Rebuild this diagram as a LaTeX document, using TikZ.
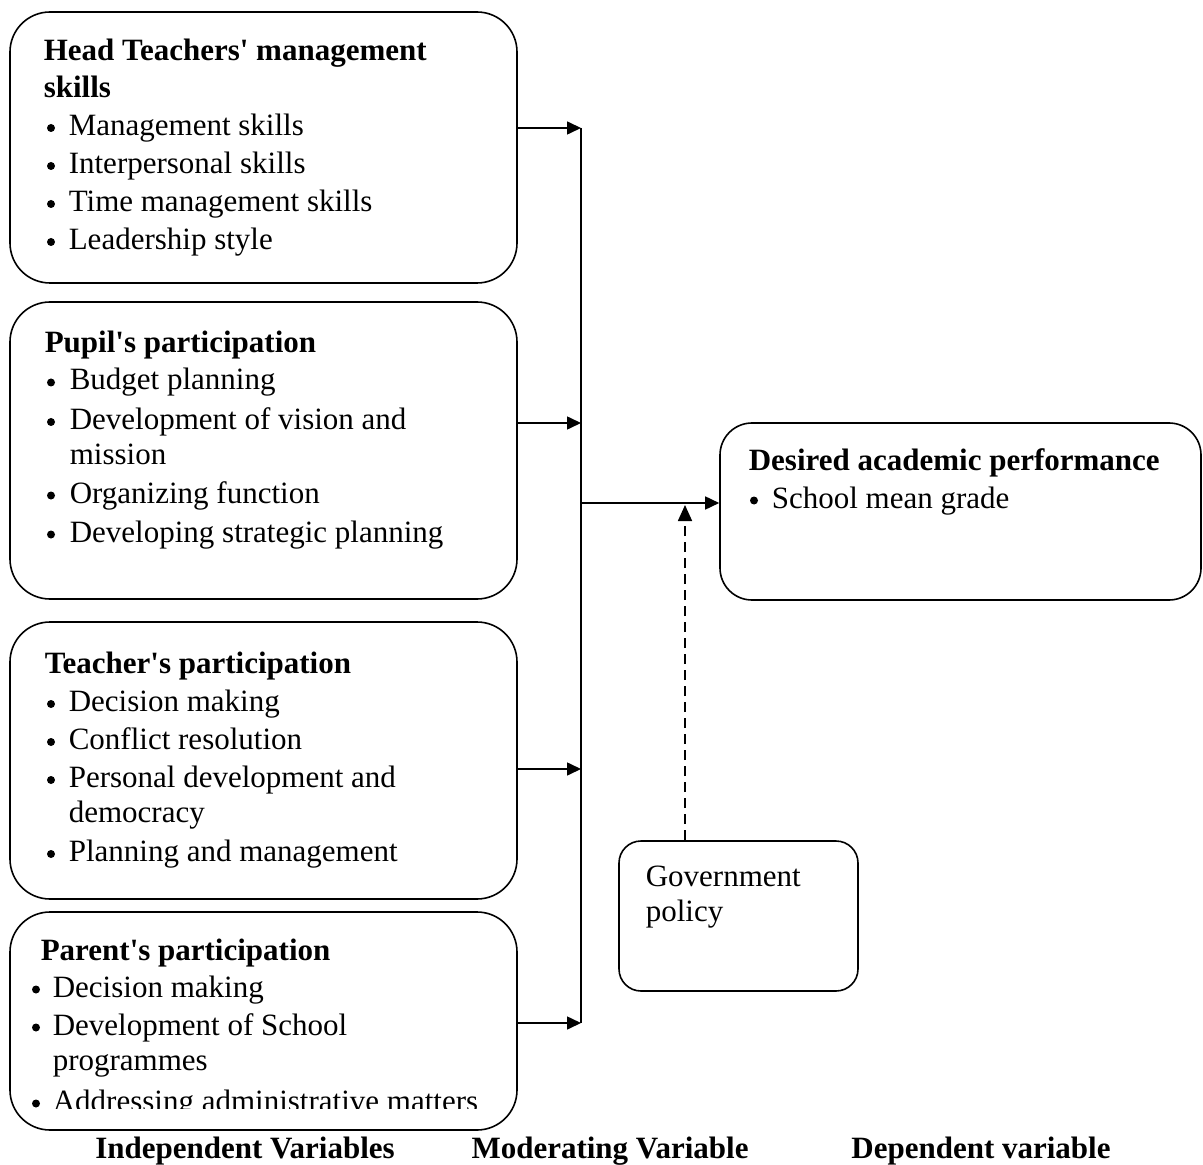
\documentclass[tikz,border=0pt]{standalone}
\usepackage{fontspec}
\newfontfamily\tnr{Liberation Serif}
\usetikzlibrary{arrows.meta}
\begin{document}
\begin{tikzpicture}[x=0.5pt,y=-0.5pt,
  line width=0.8pt,
  box/.style={draw,rounded corners=20pt,inner sep=0pt,line width=0.8pt},
  txt/.style={anchor=base west,inner sep=0pt,font=\tnr\fontsize{15.5}{19}\selectfont},
  ttl/.style={txt,font=\tnr\bfseries\fontsize{15.5}{19}\selectfont},
  lbl/.style={anchor=base,inner sep=0pt,font=\tnr\bfseries\fontsize{15.5}{19}\selectfont},
  dot/.style={circle,fill,draw=none,inner sep=0pt,minimum size=4pt},
  arr/.style={-{Triangle[length=7pt,width=6.5pt]}},
  darr/.style={-{Triangle[length=8pt,width=7pt]},dash pattern=on 5pt off 3pt}]
\useasboundingbox (0,0) rectangle (1203,1165);

% boxes
\node[box,minimum width=253.5pt,minimum height=135.5pt] (b1) at (263.5,147.5) {};
\node[box,minimum width=253.5pt,minimum height=148.5pt] (b2) at (263.5,450.5) {};
\node[box,minimum width=253.5pt,minimum height=138.5pt] (b3) at (263.5,760.5) {};
\node[box,minimum width=253.5pt,minimum height=109pt] (b4) at (263.5,1021) {};
\node[box,rounded corners=16pt,minimum width=240.5pt,minimum height=88.5pt] (dv) at (960.5,511.5) {};
\node[box,rounded corners=11pt,minimum width=119.5pt,minimum height=75pt] (gov) at (738.5,916) {};

% box 1
\node[ttl] (t1a) at (43,61) {Head Teachers' management};
\node[ttl] (t1b) at (43,98) {skills};
\node[dot] (p1a) at (51,128) {};\node[txt] (i1a) at (68,135.5) {Management skills};
\node[dot] (p1b) at (51,166) {};\node[txt] (i1b) at (68,173.5) {Interpersonal skills};
\node[dot] (p1c) at (51,204) {};\node[txt] (i1c) at (68,211.5) {Time management skills};
\node[dot] (p1d) at (51,242) {};\node[txt] (i1d) at (68,249.5) {Leadership style};

% box 2
\node[ttl] (t2) at (44,353) {Pupil's participation};
\node[dot] (p2a) at (51,382.5) {};\node[txt] (i2a) at (69,390) {Budget planning};
\node[dot] (p2b) at (51,422) {};\node[txt] (i2b) at (69,429.5) {Development of vision and};
\node[txt] (i2c) at (69,465) {mission};
\node[dot] (p2d) at (51,495.5) {};\node[txt] (i2d) at (69,503) {Organizing function};
\node[dot] (p2e) at (51,534.5) {};\node[txt] (i2e) at (69,542) {Developing strategic planning};

% box 3
\node[ttl] (t3) at (44,673) {Teacher's participation};
\node[dot] (p3a) at (51,704) {};\node[txt] (i3a) at (68,711.5) {Decision making};
\node[dot] (p3b) at (51,742) {};\node[txt] (i3b) at (68,749.5) {Conflict resolution};
\node[dot] (p3c) at (51,780) {};\node[txt] (i3c) at (68,787.5) {Personal development and};
\node[txt] (i3d) at (68,822) {democracy};
\node[dot] (p3e) at (51,854) {};\node[txt] (i3e) at (68,861.5) {Planning and management};

% box 4
\node[ttl] (t4) at (40,960) {Parent's participation};
\node[dot] (p4a) at (36,989.5) {};\node[txt] (i4a) at (52,997) {Decision making};
\node[dot] (p4b) at (36,1027.5) {};\node[txt] (i4b) at (52,1035) {Development of School};
\node[txt] (i4c) at (52,1070) {programmes};
\begin{scope}
\clip (0,1000) rectangle (516,1108);
\node[dot] (p4d) at (36,1103.5) {};\node[txt] (i4d) at (52,1111) {Addressing administrative matters};
\end{scope}

% dependent box
\node[ttl] (t5) at (748,470) {Desired academic performance};
\node[dot] (p5) at (754,500.5) {};\node[txt] (i5) at (771,508) {School mean grade};

% government box
\node[txt] (g1) at (645,886) {Government};
\node[txt] (g2) at (645,921) {policy};

% bottom labels
\node[lbl] (l1) at (245,1158) {Independent Variables};
\node[lbl] (l2) at (610,1158) {Moderating Variable};
\node[lbl] (l3) at (981,1158) {Dependent variable};

% connectors
\coordinate (v1) at (581,128);
\coordinate (v2) at (581,423);
\coordinate (v3) at (581,769);
\coordinate (v4) at (581,1023);
\coordinate (vm) at (581,503);
\coordinate (mod) at (685,505);
\draw (v1) -- (v4);
\draw[arr] (b1.east |- v1) -- (v1);
\draw[arr] (b2.east |- v2) -- (v2);
\draw[arr] (b3.east |- v3) -- (v3);
\draw[arr] (b4.east |- v4) -- (v4);
\draw[arr] (vm) -- (vm -| dv.west);
\draw[darr] (mod |- gov.north) -- (mod);
\end{tikzpicture}
\end{document}
